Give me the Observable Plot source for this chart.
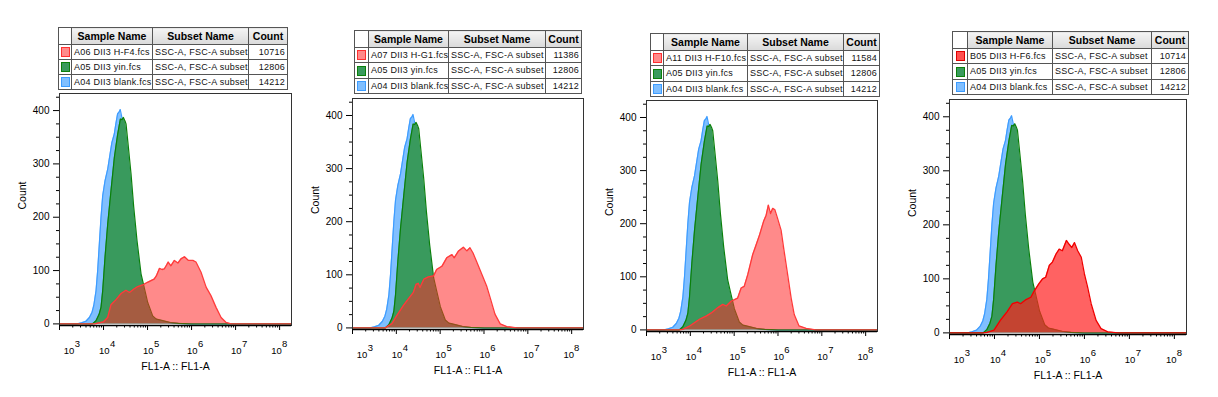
<!DOCTYPE html>
<html>
<head>
<meta charset="utf-8">
<script src="https://cdn.jsdelivr.net/npm/d3@7"></script>
<script src="https://cdn.jsdelivr.net/npm/@observablehq/plot@0.6"></script>
<style>
html,body{margin:0;padding:0;background:#fff;}
#root{position:relative;width:1218px;height:397px;overflow:hidden;font-family:"Liberation Sans",Arial,sans-serif;}
.plot{position:absolute;}
table.leg{position:absolute;border-collapse:collapse;table-layout:fixed;font-family:"Liberation Sans",Arial,sans-serif;border:1px solid #333;}
table.leg td, table.leg th{border:1px solid #555;padding:0;overflow:hidden;white-space:nowrap;}
table.leg th{font-size:10.5px;font-weight:bold;text-align:center;background:linear-gradient(#f4f4f4,#dadada);color:#000;}
table.leg th.blank{background:#fff;}
table.leg td{font-size:9px;letter-spacing:0.25px;color:#111;padding-left:2px;}
table.leg td.num{text-align:right;padding-right:2px;padding-left:0;}
table.leg td.sw{text-align:center;padding:0;}
.swatch{display:inline-block;width:9px;height:10px;vertical-align:middle;box-sizing:border-box;border:1.5px solid;}
</style>
</head>
<body>
<div id="root"></div>
<script>
// ---- data: log10(FL1-A) positions and event counts ----
const blankLog = [3.0, 3.40, 3.50, 3.60, 3.68, 3.74, 3.78, 3.83, 3.867, 3.905, 3.943, 3.981, 4.034, 4.095, 4.148, 4.19, 4.245, 4.28, 4.32, 4.36, 4.38, 4.41, 4.45, 4.50, 4.55, 4.625, 4.686, 4.761, 4.852, 4.913, 5.0, 5.12, 5.27, 5.6, 6.0, 8.27];
const blankCount = [0, 0, 2, 5, 12, 22, 35, 62, 100, 150, 200, 240, 268, 290, 318, 340, 356, 375, 394, 398, 402, 390, 372, 352, 318, 255, 198, 140, 84, 60, 30, 10, 5, 1, 0, 0];

const yinLog = [3.0, 3.75, 3.83, 3.9, 3.943, 3.981, 4.034, 4.095, 4.17, 4.246, 4.322, 4.383, 4.42, 4.451, 4.49, 4.511, 4.549, 4.625, 4.686, 4.761, 4.852, 4.913, 5.004, 5.117, 5.2, 5.3, 5.5, 5.7, 6.0, 8.27];
const yinCount = [0, 0, 6, 18, 31, 62, 125, 187, 250, 312, 356, 384, 383, 387, 380, 375, 344, 281, 219, 156, 94, 72, 40, 15, 9, 7, 3, 1, 0, 0];

const hf4Log = [3.0, 3.80, 3.85, 4.0, 4.095, 4.17, 4.28, 4.40, 4.51, 4.59, 4.70, 4.78, 4.89, 5.0, 5.15, 5.2, 5.27, 5.33, 5.38, 5.43, 5.47, 5.53, 5.61, 5.69, 5.76, 5.84, 5.93, 6.03, 6.10, 6.215, 6.33, 6.44, 6.556, 6.67, 6.78, 6.9, 8.27];
const hf4Count = [0, 0, 1, 4, 12, 36, 45, 57, 63, 59, 66, 70, 73, 78, 84, 90, 104, 102, 103, 110, 116, 109, 119, 114, 122, 126, 119, 119, 116, 97, 69, 53, 31, 12, 3, 0, 0];

const hg1Log = [3.0, 3.75, 3.82, 3.9, 4.01, 4.16, 4.24, 4.39, 4.45, 4.5, 4.54, 4.63, 4.73, 4.85, 4.92, 5.04, 5.15, 5.27, 5.32, 5.42, 5.53, 5.61, 5.68, 5.75, 5.84, 5.95, 6.06, 6.14, 6.25, 6.37, 6.52, 6.75, 8.27];
const hg1Count = [0, 0, 4, 8, 23, 42, 51, 67, 82, 84, 76, 92, 96, 98, 110, 116, 132, 138, 132, 145, 152, 145, 151, 141, 123, 101, 79, 57, 26, 7.5, 2.5, 0, 0];

const hf10Log = [3.0, 3.75, 3.83, 3.98, 4.21, 4.36, 4.48, 4.63, 4.74, 4.82, 4.93, 5.08, 5.16, 5.23, 5.31, 5.42, 5.5, 5.58, 5.67, 5.73, 5.78, 5.83, 5.88, 5.93, 5.99, 6.07, 6.14, 6.22, 6.3, 6.37, 6.48, 6.64, 6.86, 8.27];
const hf10Count = [0, 0, 1, 7, 20, 26, 32, 42, 48, 45, 54, 60, 79, 82, 104, 141, 160, 179, 204, 216, 235, 219, 229, 226, 210, 188, 148, 104, 60, 29, 7.5, 3, 0, 0];

const hf6Log = [3.0, 3.75, 3.84, 3.99, 4.13, 4.28, 4.4, 4.51, 4.58, 4.69, 4.81, 4.88, 4.99, 5.07, 5.14, 5.22, 5.29, 5.37, 5.44, 5.51, 5.6, 5.66, 5.72, 5.78, 5.85, 5.93, 6.0, 6.07, 6.15, 6.26, 6.37, 6.52, 6.75, 8.27];
const hf6Count = [0, 0, 1, 5, 23, 39, 54, 57, 54, 61, 66, 77, 91, 100, 103, 125, 131, 146, 155, 152, 171, 164, 158, 167, 152, 140, 109, 85, 54, 23, 8, 2, 0, 0];

const sampleNames = ["A06 DII3 H-F4.fcs", "A07 DII3 H-G1.fcs", "A11 DII3 H-F10.fcs", "B05 DII3 H-F6.fcs"];
const sampleTotals = [10716, 11386, 11584, 10714];
const sampleLogs = [hf4Log, hg1Log, hf10Log, hf6Log];
const sampleCounts = [hf4Count, hg1Count, hf10Count, hf6Count];
const yinName = "A05 DII3 yin.fcs", yinTotal = 12806;
const blankName = "A04 DII3 blank.fcs", blankTotal = 14212;
const subsetName = "SSC-A, FSC-A subset";
const tableHeaders = ["Sample Name", "Subset Name", "Count"];
const yTicks = [0, 100, 200, 300, 400];
const xDecades = [3, 4, 5, 6, 7, 8];
const xLabel = "FL1-A :: FL1-A";
const yLabel = "Count";

// ---- layout / styling ----
const xDomain = [1e3, Math.pow(10, 8.27)];
const yDomain = [-3, 432];
const layout = [
  {frame: [59, 93, 291, 325], table: [58, 27, 287, 89], cols: [13, 81, 96, 39], redFill: "#ff2a2a", redOpacity: 0.55, redStroke: "#ff3a3a", swFill: "#ff8a8a", swStroke: "#ff3030"},
  {frame: [352, 98, 583, 329], table: [354, 30, 581, 93], cols: [14, 80, 97, 36], redFill: "#ff2a2a", redOpacity: 0.55, redStroke: "#ff3a3a", swFill: "#ff8a8a", swStroke: "#ff3030"},
  {frame: [646, 100, 877, 331], table: [650, 33, 879, 96], cols: [13, 84, 96, 36], redFill: "#ff2a2a", redOpacity: 0.55, redStroke: "#ff3a3a", swFill: "#ff8a8a", swStroke: "#ff3030"},
  {frame: [949, 99, 1186, 334], table: [952, 31, 1188, 94], cols: [15, 85, 99, 37], redFill: "#ff2020", redOpacity: 0.70, redStroke: "#f00000", swFill: "#ff5050", swStroke: "#e00000"}
];
const blueFill = "#80bfff", blueStroke = "#3d9cff";
const greenFill = "#399a5d", greenStroke = "#0b800b";

const toPoints = (logs, counts) => logs.map((l, i) => ({x: Math.pow(10, l), y: counts[i]}));
const blankPts = toPoints(blankLog, blankCount);
const yinPts = toPoints(yinLog, yinCount);

const majors = xDecades.map(d => Math.pow(10, d));
const minors = [];
for (const d of xDecades) for (let m = 2; m <= 9; m++) { const v = m * Math.pow(10, d); if (v <= xDomain[1]) minors.push(v); }
const yMinors = d3.range(0, 430, 25).filter(v => v % 100 !== 0);
const expo = d => String(Math.round(Math.log10(d)));

const root = document.getElementById("root");
const font = '"Liberation Sans", Arial, sans-serif';

layout.forEach((lay, i) => {
  const [L, T, R, B] = lay.frame;
  const mL = 48, mR = 14, mT = 8, mB = 56;
  const red = toPoints(sampleLogs[i], sampleCounts[i]);
  const first = majors.slice(0, 1), mid = majors.slice(1, 5), last = majors.slice(5);
  const lab = (ticks, dx, pad, fmt) => Plot.axisX(ticks, {tickSize: 0, tickPadding: pad, dx, tickFormat: fmt, label: null, fontSize: 9.5});
  const svg = Plot.plot({
    width: (R - L) + mL + mR,
    height: (B - T) + mT + mB,
    marginLeft: mL, marginRight: mR, marginTop: mT, marginBottom: mB,
    x: {type: "log", domain: xDomain},
    y: {domain: yDomain},
    style: {fontFamily: font, fontSize: "10px", background: "transparent", overflow: "visible", color: "#000"},
    marks: [
      Plot.areaY(blankPts, {x: "x", y: "y", fill: blueFill}),
      Plot.lineY(blankPts, {x: "x", y: "y", stroke: blueStroke, strokeWidth: 1.2}),
      Plot.areaY(yinPts, {x: "x", y: "y", fill: greenFill}),
      Plot.lineY(yinPts, {x: "x", y: "y", stroke: greenStroke, strokeWidth: 1.2}),
      Plot.areaY(red, {x: "x", y: "y", fill: lay.redFill, fillOpacity: lay.redOpacity}),
      Plot.lineY(red, {x: "x", y: "y", stroke: lay.redStroke, strokeWidth: 1.3}),
      Plot.frame({stroke: "#333", strokeWidth: 1}),
      Plot.ruleY([yDomain[0]], {stroke: "#000", strokeWidth: 1.5}),
      Plot.axisY(yTicks, {tickSize: 6, tickPadding: 4, label: null, fontSize: 10}),
      Plot.axisY(yMinors, {tickSize: 3, tickFormat: () => "", label: null}),
      Plot.axisX(majors, {tickSize: 5, tickFormat: () => "", label: null}),
      Plot.axisX(minors, {tickSize: 2.5, tickFormat: () => "", label: null}),
      lab(first, 9.5, 22, () => "10"),
      lab(mid, 0.7, 22, () => "10"),
      lab(last, -3, 22, () => "10"),
      lab(first, 18, 15, expo),
      lab(mid, 9, 15, expo),
      lab(last, 5, 15, expo),
      Plot.text([yLabel], {text: d => d, frameAnchor: "left", rotate: -90, dx: -37, fontSize: 10.5, fill: "#000"}),
      Plot.text([xLabel], {text: d => d, frameAnchor: "bottom", dy: 44, fontSize: 10.5, fill: "#000"})
    ]
  });
  svg.classList.add("plot");
  svg.style.left = (L - mL) + "px";
  svg.style.top = (T - mT) + "px";
  root.appendChild(svg);

  // legend table
  const [tl, tt, tr, tb] = lay.table;
  const tbl = document.createElement("table");
  tbl.className = "leg";
  tbl.style.left = tl + "px";
  tbl.style.top = tt + "px";
  tbl.style.width = (tr - tl) + "px";
  const cg = document.createElement("colgroup");
  lay.cols.forEach(w => { const c = document.createElement("col"); c.style.width = w + "px"; cg.appendChild(c); });
  tbl.appendChild(cg);
  const totalH = tb - tt;
  const headH = 17, rowH = (totalH - headH) / 3;
  const hr = document.createElement("tr");
  hr.style.height = headH + "px";
  const b0 = document.createElement("th"); b0.className = "blank"; hr.appendChild(b0);
  tableHeaders.forEach(h => { const th = document.createElement("th"); th.textContent = h; hr.appendChild(th); });
  tbl.appendChild(hr);
  const rows = [
    [sampleNames[i], sampleTotals[i], lay.swFill, lay.swStroke],
    [yinName, yinTotal, greenFill, greenStroke],
    [blankName, blankTotal, blueFill, blueStroke]
  ];
  rows.forEach(([name, total, f, s]) => {
    const r = document.createElement("tr");
    r.style.height = rowH + "px";
    const sw = document.createElement("td"); sw.className = "sw";
    const box = document.createElement("span"); box.className = "swatch";
    box.style.background = f; box.style.borderColor = s;
    sw.appendChild(box); r.appendChild(sw);
    const n = document.createElement("td"); n.textContent = name; r.appendChild(n);
    const sub = document.createElement("td"); sub.textContent = subsetName; r.appendChild(sub);
    const c = document.createElement("td"); c.className = "num"; c.textContent = total; r.appendChild(c);
    tbl.appendChild(r);
  });
  root.appendChild(tbl);
});
</script>
</body>
</html>
